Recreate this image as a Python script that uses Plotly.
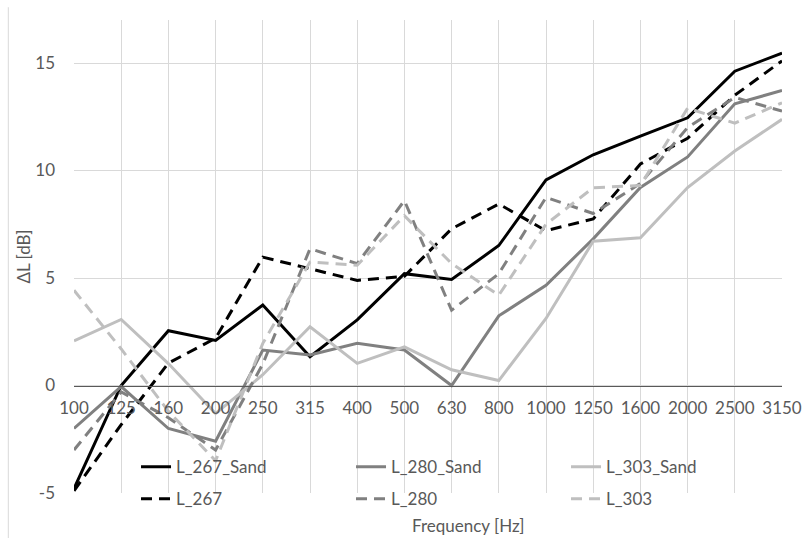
import plotly.graph_objects as go

categories = ["100", "125", "160", "200", "250", "315", "400", "500", "630",
              "800", "1000", "1250", "1600", "2000", "2500", "3150"]

L_267_Sand = [-4.8, 0.0, 2.55, 2.1, 3.74, 1.34, 3.05, 5.2, 4.93, 6.51, 9.56, 10.73, 11.6, 12.45, 14.62, 15.46]
L_280_Sand = [-2.0, -0.05, -2.0, -2.59, 1.65, 1.42, 1.96, 1.65, 0.0, 3.24, 4.66, 6.82, 9.21, 10.63, 13.1, 13.72]
L_303_Sand = [2.08, 3.07, 1.02, -1.3, 0.5, 2.73, 1.03, 1.8, 0.73, 0.23, 3.12, 6.71, 6.87, 9.21, 10.91, 12.38]
L_267 = [-4.9, -1.82, 1.04, 2.2, 5.97, 5.43, 4.89, 5.08, 7.29, 8.44, 7.2, 7.75, 10.3, 11.5, 13.5, 15.1]
L_280 = [-3.0, -0.3, -1.5, -3.0, 1.0, 6.36, 5.67, 8.6, 3.5, 5.2, 8.75, 8.0, 9.4, 12.0, 13.4, 12.76]
L_303 = [4.43, 1.7, -1.2, -3.5, 1.96, 5.74, 5.59, 7.9, 5.67, 4.2, 7.5, 9.2, 9.3, 12.9, 12.2, 13.15]

y_tickvals = [-5, 0, 5, 10, 15]
y_ticktext = ["-5", "0", "5", "10", "15"]

FONT = "Lato"
TXT = "#595959"
DASH = "11px,7px"

series = [
    ("L_267_Sand", L_267_Sand, "#000000", "solid", "legend"),
    ("L_280_Sand", L_280_Sand, "#808080", "solid", "legend"),
    ("L_303_Sand", L_303_Sand, "#bfbfbf", "solid", "legend"),
    ("L_267", L_267, "#000000", DASH, "legend2"),
    ("L_280", L_280, "#808080", DASH, "legend2"),
    ("L_303", L_303, "#bfbfbf", DASH, "legend2"),
]

fig = go.Figure()
for name, vals, col, dash, lg in series:
    fig.add_trace(go.Scatter(
        x=categories, y=vals, name=name, mode="lines",
        line=dict(color=col, width=3, dash=dash),
        legend=lg,
    ))

legend_common = dict(
    orientation="h", xanchor="left", yanchor="middle",
    entrywidth=170, entrywidthmode="pixels",
    font=dict(family=FONT, size=17, color=TXT),
    bgcolor="rgba(0,0,0,0)", borderwidth=0, itemwidth=30,
)

fig.update_layout(
    width=803, height=538,
    margin=dict(l=74, r=21, t=20, b=45, autoexpand=False),
    plot_bgcolor="white", paper_bgcolor="white",
    font=dict(family=FONT, size=17, color=TXT),
    showlegend=True,
    legend=dict(x=0.0876, y=0.0544, **legend_common),
    legend2=dict(x=0.0876, y=-0.0133, **legend_common),
    xaxis=dict(
        type="category", range=[0, 15], automargin=False,
        anchor="free", position=5 / 22,
        showgrid=True, gridcolor="#d9d9d9", gridwidth=1,
        showline=True, linecolor="#595959", linewidth=1.3,
        ticks="", ticklabelstandoff=7,
        tickfont=dict(family=FONT, size=17, color=TXT),
    ),
    yaxis=dict(
        range=[-5, 17], tickmode="array", automargin=False,
        tickvals=y_tickvals, ticktext=y_ticktext,
        showgrid=True, gridcolor="#d9d9d9", gridwidth=1,
        zeroline=False, showline=False, ticks="",
        ticklabelstandoff=18,
        tickfont=dict(family=FONT, size=17, color=TXT),
        title=dict(text="ΔL [dB]", font=dict(family=FONT, size=17, color=TXT), standoff=0),
    ),
    annotations=[dict(
        text="Frequency [Hz]", xref="paper", yref="paper",
        x=0.5565, y=-0.068, xanchor="center", yanchor="middle",
        showarrow=False, font=dict(family=FONT, size=17, color=TXT),
    )],
    shapes=[dict(
        type="line", xref="paper", yref="paper",
        x0=-0.0928, x1=-0.0928, y0=1.027, y1=-0.2,
        line=dict(color="#d9d9d9", width=1),
    )],
)

fig.write_html("out.html", config={"displayModeBar": False},
               post_script="document.body.style.margin='0';document.body.style.overflow='hidden';")
